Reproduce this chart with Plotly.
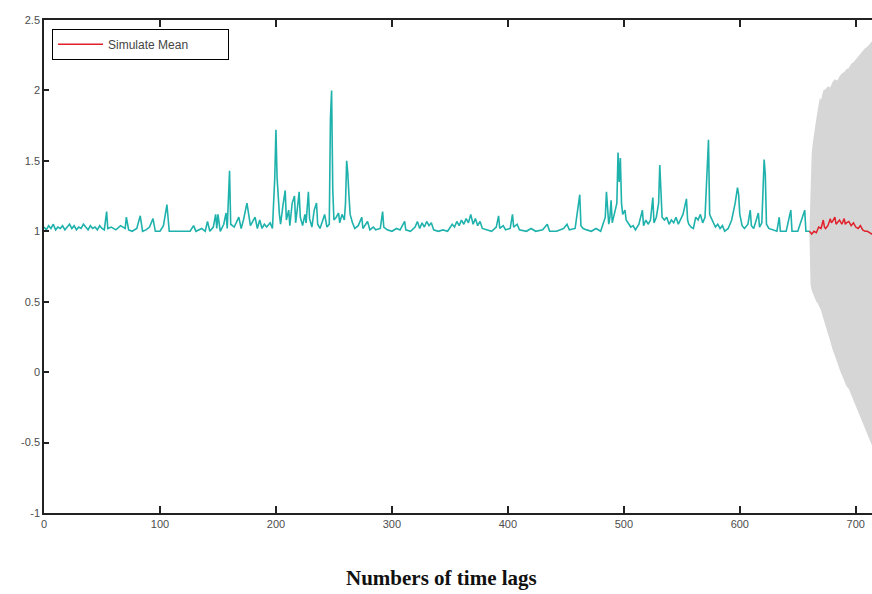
import plotly.graph_objects as go

obs_x = [0,2,4,6,8,10,12,14,16,18,20,22,24,26,28,30,32,34,36,38,40,42,44,46,48,50,
         52,54,55,58,62,66,70,71,73,76,80,83,85,88,91,94,96,100,103,106,108,126,129,131,
         136,139,141,143,146,148,149,150,152,155,157,158,160,161,164,166,168,170,172,175,
         176,178,180,182,184,186,188,190,192,195,197,199,200,201,203,204,206,208,209,211,
         212,214,216,217,219,220,221,223,225,226,228,229,231,233,235,236,238,240,242,244,
         246,247,248,249,250,252,254,255,257,259,260,261,262,263,264,266,268,271,274,275,
         277,279,281,284,286,290,292,293,296,300,304,307,311,312,316,320,322,324,326,328,
         330,332,334,336,340,344,348,352,354,356,358,360,362,364,366,368,370,372,374,376,
         378,382,386,390,392,393,396,398,402,404,405,408,410,416,420,424,430,434,436,442,
         448,451,453,458,461,462,463,465,468,472,476,480,482,484,485,487,488,489,490,492,
         494,495,496,497,498,499,501,502,504,506,508,510,513,516,517,519,521,523,525,526,
         528,530,531,532,533,535,537,539,541,543,545,547,549,551,554,555,556,558,560,562,
         564,566,568,570,573,574,575,577,579,581,583,585,587,590,593,596,598,599,600,602,
         604,607,609,610,612,616,617,619,621,622,623,625,629,632,634,635,640,644,645,650,
         656,657,660]
obs_y = [1.03,1.01,1.04,1.02,1.05,1.01,1.03,1.02,1.04,1.01,1.03,1.05,1.02,1.04,1.01,1.03,1.02,1.05,1.03,1.01,1.04,1.02,1.03,1.01,1.04,1.02,
         1.01,1.14,1.02,1.03,1.01,1.04,1.02,1.10,1.01,1.00,1.02,1.11,1.00,1.01,1.03,1.09,1.00,1.00,1.04,1.19,1.00,1.00,1.04,1.00,
         1.02,1.00,1.07,1.00,1.03,1.12,1.02,1.12,1.00,1.05,1.13,1.02,1.43,1.05,1.03,1.06,1.10,1.02,1.08,1.20,
         1.15,1.04,1.07,1.10,1.02,1.08,1.02,1.05,1.03,1.06,1.02,1.38,1.72,1.38,1.12,1.05,1.18,1.29,1.08,1.15,
         1.04,1.20,1.25,1.06,1.20,1.28,1.10,1.04,1.12,1.06,1.28,1.09,1.03,1.15,1.20,1.05,1.02,1.08,1.12,1.03,
         1.05,1.80,2.00,1.30,1.08,1.10,1.13,1.06,1.12,1.08,1.20,1.50,1.41,1.25,1.12,1.06,1.02,1.04,1.10,1.02,
         1.05,1.07,1.01,1.03,1.01,1.02,1.14,1.03,1.01,1.00,1.02,1.01,1.07,1.01,1.00,1.03,1.07,1.02,1.06,1.03,
         1.07,1.04,1.06,1.01,1.00,1.01,1.00,1.05,1.03,1.07,1.04,1.08,1.05,1.09,1.06,1.12,1.05,1.09,1.04,1.07,
         1.02,1.01,1.00,1.03,1.11,1.02,1.04,1.01,1.02,1.12,1.03,1.05,1.01,1.00,1.02,1.00,1.01,1.05,1.00,1.00,
         1.02,1.05,1.01,1.02,1.20,1.26,1.04,1.02,1.01,1.00,1.02,1.00,1.05,1.10,1.28,1.05,1.10,1.22,1.06,1.12,
         1.20,1.56,1.35,1.52,1.20,1.12,1.15,1.08,1.05,1.03,1.04,1.01,1.05,1.15,1.04,1.08,1.05,1.08,1.24,1.06,
         1.10,1.20,1.47,1.30,1.10,1.08,1.10,1.05,1.08,1.06,1.10,1.05,1.08,1.12,1.23,1.08,1.05,1.03,1.02,1.10,
         1.08,1.12,1.06,1.10,1.65,1.12,1.10,1.06,1.03,1.05,1.02,1.04,1.00,1.02,1.08,1.20,1.31,1.26,1.12,1.04,
         1.02,1.05,1.15,1.04,1.02,1.13,1.03,1.06,1.51,1.40,1.05,1.02,1.01,1.00,1.10,1.00,1.00,1.15,1.00,1.00,
         1.15,1.00,1.00]

# Simulated mean (red)
sim_x = [660,662,664,666,668,670,672,673,674,676,678,679,680,682,683,684,686,688,690,691,692,694,696,698,700,702,704,706,708,710,712,714,716,720]
sim_y = [1.00,0.98,1.00,0.99,1.03,1.02,1.08,1.03,1.02,1.04,1.09,1.06,1.07,1.10,1.05,1.06,1.08,1.05,1.09,1.05,1.06,1.07,1.04,1.06,1.03,1.02,1.04,1.01,1.00,1.00,0.99,0.98,0.99,0.98]

# Simulation envelope (grey)
band_x = [660,661,662,663,664,665,666,667,668,669,670,671,672,674,676,678,680,682,684,686,688,690,692,694,696,698,700,702,704,706,708,710,712,714,716,720]
band_hi = [1.00,1.40,1.55,1.63,1.70,1.76,1.80,1.85,1.90,1.95,1.93,1.97,2.00,2.01,2.03,2.02,2.06,2.08,2.07,2.10,2.12,2.13,2.15,2.16,2.19,2.20,2.22,2.24,2.26,2.28,2.30,2.31,2.33,2.35,2.37,2.40]
band_lo = [1.00,0.62,0.58,0.57,0.55,0.52,0.50,0.49,0.47,0.46,0.44,0.41,0.38,0.32,0.27,0.22,0.16,0.11,0.07,0.02,-0.03,-0.06,-0.10,-0.12,-0.16,-0.20,-0.23,-0.27,-0.31,-0.36,-0.40,-0.44,-0.48,-0.52,-0.56,-0.62]

x_ticks = [0,100,200,300,400,500,600,700]
y_ticks = [-1,-0.5,0,0.5,1,1.5,2,2.5]
y_tick_text = ["-1","-0.5","0","0.5","1","1.5","2","2.5"]

fig = go.Figure()
fig.add_trace(go.Scatter(
    x=band_x + band_x[::-1], y=band_hi + band_lo[::-1],
    fill="toself", fillcolor="#d6d6d6", line=dict(width=0, color="#d6d6d6"),
    mode="lines", showlegend=False, hoverinfo="skip"))
fig.add_trace(go.Scatter(
    x=obs_x, y=obs_y, mode="lines", line=dict(color="#1fb2ad", width=1.6),
    showlegend=False))
fig.add_trace(go.Scatter(
    x=sim_x, y=sim_y, mode="lines", line=dict(color="#e0202a", width=1.5),
    name="Simulate Mean", showlegend=True))

axis_font = dict(family="Liberation Sans, Arial, sans-serif", size=11, color="#4d4d4d")

fig.update_layout(
    width=872, height=594,
    margin=dict(l=44, r=0, t=20, b=81),
    paper_bgcolor="white", plot_bgcolor="white",
    showlegend=True,
    legend=dict(
        x=0.0097, y=0.982, xanchor="left", yanchor="top",
        orientation="h", itemwidth=45,
        bordercolor="black", borderwidth=1, bgcolor="white",
        font=dict(family="Liberation Sans, Arial, sans-serif", size=12, color="#444444"),
        entrywidth=115, entrywidthmode="pixels",
    ),
    xaxis=dict(
        range=[0, 714], tickmode="array", tickvals=x_ticks,
        ticks="inside", ticklen=7, tickwidth=1.5, tickcolor="#222222",
        showline=True, linecolor="#222222", linewidth=1.5, mirror="ticks",
        showgrid=False, zeroline=False, tickfont=axis_font,
    ),
    yaxis=dict(
        range=[-1, 2.5], tickmode="array", tickvals=y_ticks, ticktext=y_tick_text,
        ticks="inside", ticklen=5, tickwidth=1.5, tickcolor="#222222",
        showline=True, linecolor="#222222", linewidth=1.5, mirror=False,
        showgrid=False, zeroline=False, tickfont=axis_font,
    ),
    annotations=[dict(
        text="<b>Numbers of time lags</b>", xref="paper", yref="paper",
        x=0.4795, y=-0.132, xanchor="center", yanchor="middle", showarrow=False,
        font=dict(family="Liberation Serif, Times New Roman, serif", size=21, color="#111111"),
    )],
)

fig.write_html(
    "out.html",
    config={"displayModeBar": False},
    post_script="document.body.style.margin='0px';document.body.style.overflow='hidden';",
)
